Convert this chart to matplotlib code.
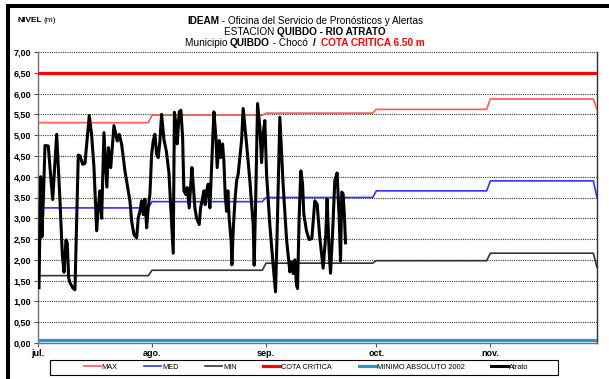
import matplotlib
matplotlib.use("Agg")
import matplotlib.pyplot as plt
from matplotlib import font_manager
from matplotlib.patches import Rectangle
from matplotlib.ticker import FuncFormatter, MultipleLocator

# ---- fonts ----
_names = {f.name for f in font_manager.fontManager.ttflist}
NARROW = "Liberation Sans Narrow" if "Liberation Sans Narrow" in _names else "Liberation Sans"
plt.rcParams["font.family"] = ["Liberation Sans", "DejaVu Sans"]

# ---- data ----
MESES = ["jul.", "ago.", "sep.", "oct.", "nov."]
DIAS_MES = [31, 31, 30, 31, 30]          # days in each month, starting 1 July
NIVEL_MAX = [5.30, 5.48, 5.53, 5.62, 5.87]
NIVEL_MED = [3.25, 3.40, 3.50, 3.66, 3.90]
NIVEL_MIN = [1.62, 1.75, 1.92, 1.98, 2.16]
ULTIMO_DIA_MAX = 5.62                      # value on 30 Nov
ULTIMO_DIA_MED = 3.50
ULTIMO_DIA_MIN = 1.82
COTA_CRITICA = 6.50
MINIMO_ABSOLUTO_2002 = 0.07

# Atrato river level at Quibdó: days since 1 July and level (m)
ATRATO_DIA = [
    0.27, 0.73, 1.06, 1.44, 1.90, 2.80, 3.26, 3.99, 5.08, 5.98,
    6.60, 7.07, 7.61, 7.96, 8.34, 8.70, 9.43, 10.05, 10.95, 11.41,
    12.15, 12.77, 13.23, 13.94, 14.59, 15.22, 15.95, 16.39, 16.85, 17.31,
    17.93, 18.72, 19.16, 19.78, 20.65, 21.20, 21.55, 22.09, 22.74, 23.64,
    24.54, 25.00, 25.46, 26.09, 26.82, 27.26, 27.72, 28.18, 28.61, 29.08,
    29.54, 29.97, 30.43, 30.90, 31.33, 31.79, 32.26, 32.69, 33.15, 33.61,
    34.24, 34.92, 35.60, 36.14, 36.77, 37.09, 37.50, 37.85, 38.40, 38.86,
    39.32, 39.67, 40.22, 40.57, 41.11, 41.49, 41.85, 42.20, 42.66, 43.13,
    43.83, 44.21, 44.76, 45.11, 45.46, 45.84, 46.28, 46.74, 47.09, 47.47,
    47.83, 48.37, 48.72, 49.27, 49.65, 50.19, 50.54, 50.90, 51.28, 51.63,
    51.98, 52.53, 52.72, 53.07, 53.53, 54.00, 54.43, 54.89, 55.35, 55.79,
    56.71, 57.61, 58.51, 58.78, 59.24, 59.70, 60.33, 60.79, 61.22, 61.68,
    62.15, 63.04, 63.94, 64.59, 65.03, 65.76, 66.66, 67.58, 68.02, 68.48,
    68.94, 69.38, 69.84, 70.30, 70.57, 71.01, 71.47, 71.93, 72.28, 73.02,
    73.72, 74.46, 75.27, 75.90, 76.63, 77.53, 78.26, 78.61, 79.16, 79.54,
    80.08, 80.71, 81.33, 81.88, 82.26, 82.61, 82.96, 83.34, 83.61,
]
ATRATO_NIVEL = [
    1.33, 4.00, 2.55, 3.42, 4.75, 4.74, 4.22, 3.45, 5.02, 3.42,
    2.14, 1.70, 2.48, 2.40, 1.56, 1.45, 1.33, 1.28, 4.52, 4.50,
    4.30, 4.32, 4.78, 5.47, 5.00, 4.22, 2.70, 3.26, 3.66, 3.00,
    5.06, 3.75, 4.70, 4.22, 5.23, 5.00, 4.86, 5.02, 4.78, 4.14,
    3.66, 3.42, 2.93, 2.61, 2.53, 3.01, 3.17, 3.42, 3.09, 3.46,
    2.77, 3.25, 3.58, 4.54, 4.86, 5.02, 4.54, 4.46, 4.86, 5.50,
    4.90, 4.60, 4.10, 3.20, 2.16, 5.55, 5.27, 4.79, 5.56, 5.60,
    4.95, 3.66, 3.57, 3.74, 3.25, 3.74, 4.22, 3.82, 3.25, 3.00,
    2.85, 3.25, 3.49, 3.66, 3.33, 3.66, 3.82, 3.25, 4.00, 4.79,
    5.56, 4.95, 4.22, 4.87, 4.46, 4.79, 4.38, 3.57, 3.17, 3.66,
    3.00, 2.44, 1.88, 2.69, 3.41, 3.90, 4.06, 4.46, 4.87, 5.64,
    4.79, 3.90, 2.84, 1.87, 3.65, 5.76, 5.19, 4.34, 5.03, 5.35,
    4.06, 2.84, 1.87, 1.23, 2.68, 5.43, 3.80, 2.50, 2.12, 1.71,
    1.95, 1.67, 2.00, 1.39, 1.31, 3.02, 4.14, 3.83, 3.10, 2.69,
    2.49, 2.51, 3.42, 3.34, 2.53, 1.80, 2.61, 3.46, 2.21, 1.68,
    2.61, 3.91, 4.09, 3.02, 1.97, 3.63, 3.59, 3.02, 2.41,
]


def escalones(valores, ultimo):
    """Monthly constant levels: one point on the first and last day of each month."""
    xs, ys = [], []
    inicio = 0
    for v, n in zip(valores, DIAS_MES):
        xs += [inicio, inicio + n - 1]
        ys += [v, v]
        inicio += n
    # last day of the record
    xs[-1] = inicio - 2
    xs.append(inicio - 1)
    ys.append(ultimo)
    return xs, ys


TOTAL_DIAS = sum(DIAS_MES)
INICIO_MES = [sum(DIAS_MES[:i]) for i in range(len(DIAS_MES))]

# ---- figure ----
W, H = 609, 379
fig = plt.figure(figsize=(W / 100, H / 100), dpi=100)
ax = fig.add_axes([38 / W, 1 - 343 / H, (597 - 38) / W, (343 - 52) / H])

# outer frame, drawn on the top and left edges
fig.patches.append(Rectangle((6 / W, 0), 4 / W, 1 - 4 / H, transform=fig.transFigure,
                             facecolor="black", edgecolor="none", zorder=0))
fig.patches.append(Rectangle((6 / W, 1 - 8 / H), 1 - 6 / W, 4 / H, transform=fig.transFigure,
                             facecolor="black", edgecolor="none", zorder=0))

# grid
for yv in [i * 0.5 for i in range(1, 15)]:
    ax.axhline(yv, color="#3a3a3a", lw=0.8, ls=(0, (1, 1)), zorder=1)

x, y = escalones(NIVEL_MAX, ULTIMO_DIA_MAX)
ax.plot(x, y, color="#ff5a5a", lw=1.2, label="MAX", zorder=3)
x, y = escalones(NIVEL_MED, ULTIMO_DIA_MED)
ax.plot(x, y, color="#3333ff", lw=1.2, label="MED", zorder=3)
x, y = escalones(NIVEL_MIN, ULTIMO_DIA_MIN)
ax.plot(x, y, color="#333333", lw=1.2, label="MIN", zorder=3)
ax.plot([0, TOTAL_DIAS - 1], [COTA_CRITICA] * 2, color="#ff0000", lw=2.3,
        label="COTA CRITICA", zorder=3)
ax.plot([0, TOTAL_DIAS - 1], [MINIMO_ABSOLUTO_2002] * 2, color="#1e9bd7", lw=2.3,
        label="MINIMO ABSOLUTO 2002", zorder=3)
ax.plot(ATRATO_DIA, ATRATO_NIVEL, color="black", lw=2.2, solid_joinstyle="round",
        label="Atrato", zorder=4)

ax.set_xlim(0, TOTAL_DIAS - 1)
ax.set_ylim(0, 7)
ax.yaxis.set_major_locator(MultipleLocator(0.5))
ax.yaxis.set_major_formatter(FuncFormatter(lambda v, p: f"{v:.2f}".replace(".", ",")))
ax.set_xticks(INICIO_MES)
ax.set_xticklabels(MESES)
ax.tick_params(axis="both", direction="out", length=3, width=0.8, colors="#555555",
               labelcolor="black", labelsize=6.5, pad=2)
ax.tick_params(axis="x", pad=1.5)
for lab in ax.get_xticklabels() + ax.get_yticklabels():
    lab.set_fontweight("bold")

for s in ["left", "bottom", "right"]:
    ax.spines[s].set_color("#707070")
    ax.spines[s].set_linewidth(1.0)
ax.spines["right"].set_color("#303030")
ax.spines["top"].set_visible(False)

# legend: entries centred inside a fixed box
fig.patches.append(Rectangle((50 / W, 1 - 375 / H), 508 / W, 15 / H,
                             transform=fig.transFigure, facecolor="white",
                             edgecolor="black", linewidth=0.8, zorder=5))
leg = fig.legend(loc="center", ncol=6, bbox_to_anchor=(306 / W, 1 - 367.5 / H),
                 frameon=False, prop={"family": NARROW, "size": 5.3},
                 handlelength=2.3, handletextpad=0.15, columnspacing=3.6,
                 borderpad=0.1, borderaxespad=0)
leg.set_zorder(6)

# titles with mixed weights, centred on one line each
fig.canvas.draw()
renderer = fig.canvas.get_renderer()


def linea(segmentos, y_px, size, cx_px=305):
    textos = [fig.text(0, 1 - y_px / H, s, fontsize=size, fontweight=w, color=c,
                       family=NARROW, va="center", ha="left")
              for s, w, c in segmentos]
    anchos = [t.get_window_extent(renderer).width for t in textos]
    x0 = cx_px - sum(anchos) / 2
    for t, a in zip(textos, anchos):
        t.set_x(x0 / W)
        x0 += a


linea([("IDEAM", "bold", "black"),
       (" - Oficina del Servicio de Pronósticos y Alertas", "normal", "black")], 21, 7.2)
linea([("ESTACION ", "normal", "black"),
       ("QUIBDO - RIO ATRATO", "bold", "black")], 32, 7.2)
linea([("Municipio ", "normal", "black"), ("QUIBDO", "bold", "black"),
       (" - Chocó  ", "normal", "black"), ("/", "bold", "black"),
       ("  ", "normal", "black"),
       ("COTA CRITICA 6.50 m", "bold", "#ff0000")], 43, 7.2)

t1 = fig.text(17 / W, 1 - 20 / H, "NIVEL", fontsize=6, fontweight="bold",
              family=NARROW, va="center", ha="left")
w1 = t1.get_window_extent(renderer).width
fig.text((17 + w1 + 2) / W, 1 - 20 / H, "(m)", fontsize=6, family=NARROW,
         va="center", ha="left")

fig.savefig("out.png", dpi=100)
